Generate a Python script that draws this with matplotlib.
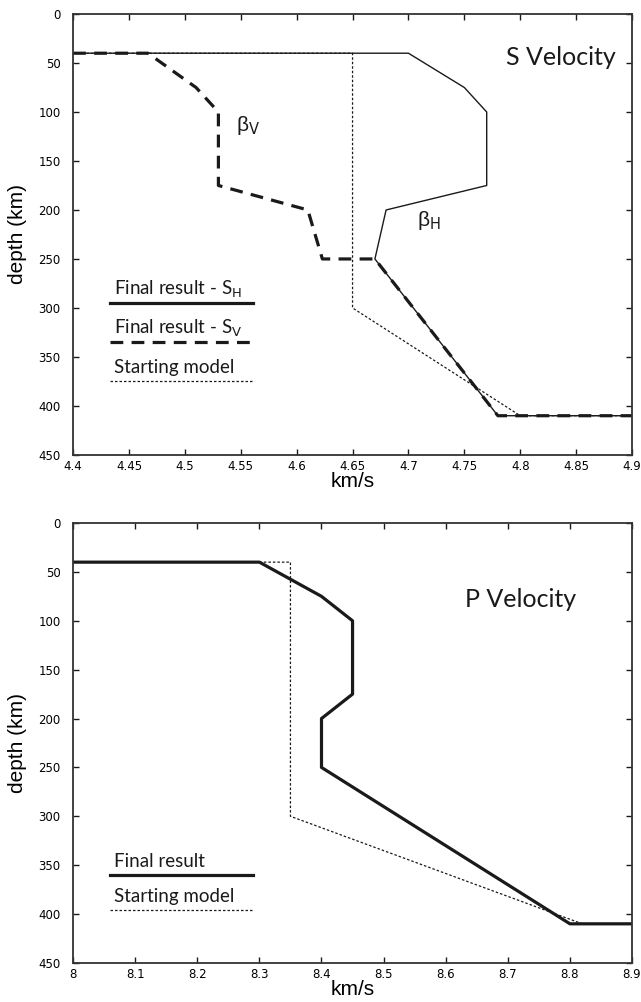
import matplotlib.pyplot as plt
from matplotlib.lines import Line2D

# S velocity profiles (km/s vs depth km)
sh_vel = [4.4, 4.7, 4.75, 4.77, 4.77, 4.68, 4.67, 4.78, 4.9]
sh_dep = [40, 40, 75, 100, 175, 200, 250, 410, 410]
sv_vel = [4.4, 4.467, 4.51, 4.53, 4.53, 4.61, 4.623, 4.67, 4.78, 4.9]
sv_dep = [40, 40, 75, 100, 175, 200, 250, 250, 410, 410]
s0_vel = [4.4, 4.65, 4.65, 4.8, 4.9]
s0_dep = [40, 40, 300, 410, 410]

# P velocity profiles
p_vel = [8.0, 8.3, 8.4, 8.45, 8.45, 8.4, 8.4, 8.8, 8.9]
p_dep = [40, 40, 75, 100, 175, 200, 250, 410, 410]
p0_vel = [8.3, 8.35, 8.35, 8.82, 8.9]
p0_dep = [40, 40, 300, 410, 410]

s_ticks = [4.4, 4.45, 4.5, 4.55, 4.6, 4.65, 4.7, 4.75, 4.8, 4.85, 4.9]
s_ticklabels = ['4.4', '4.45', '4.5', '4.55', '4.6', '4.65', '4.7', '4.75', '4.8', '4.85', '4.9']
p_ticks = [8.0, 8.1, 8.2, 8.3, 8.4, 8.5, 8.6, 8.7, 8.8, 8.9]
p_ticklabels = ['8', '8.1', '8.2', '8.3', '8.4', '8.5', '8.6', '8.7', '8.8', '8.9']
depth_ticks = [0, 50, 100, 150, 200, 250, 300, 350, 400, 450]

TICKFONT = ['Liberation Sans Narrow', 'DejaVu Sans']
LABELFONT = ['Liberation Sans', 'DejaVu Sans']
TEXTFONT = ['Lato', 'DejaVu Sans']
INK = '#1a1a1a'

fig = plt.figure(figsize=(6.41, 10.02), dpi=100)
ax1 = fig.add_axes([0.114, 0.546, 0.872, 0.440])
ax2 = fig.add_axes([0.114, 0.039, 0.872, 0.439])


def style_axes(ax, ticks, ticklabels, xlim):
    ax.set_xlim(*xlim)
    ax.set_ylim(450, 0)
    ax.set_xticks(ticks)
    ax.set_xticklabels(ticklabels, fontfamily=TICKFONT, fontsize=8.5)
    ax.set_yticks(depth_ticks)
    ax.set_yticklabels([str(d) for d in depth_ticks], fontfamily=TICKFONT, fontsize=8.5)
    ax.tick_params(direction='in', length=4, width=1, top=True, right=True,
                   color=INK)
    ax.tick_params(axis='x', pad=4)
    ax.tick_params(axis='y', pad=9)
    for sp in ax.spines.values():
        sp.set_linewidth(1.3)
        sp.set_color('#333333')
    ax.set_xlabel('km/s', fontfamily=LABELFONT, fontsize=15, labelpad=-1)
    ax.set_ylabel('depth (km)', fontfamily=LABELFONT, fontsize=15, labelpad=8)


def legend_entry(ax, y_line, label, **line_kw):
    ax.text(0.073, y_line + 0.018, label, transform=ax.transAxes,
            fontfamily=TEXTFONT, fontsize=13.5, color=INK, va='baseline')
    ax.add_line(Line2D([0.066, 0.322], [y_line, y_line], transform=ax.transAxes,
                       color=INK, **line_kw))


# --- S velocity
ax1.plot(s0_vel, s0_dep, color=INK, lw=0.9, ls=(0, (2, 1.6)))
ax1.plot(sh_vel, sh_dep, color=INK, lw=1.0)
ax1.plot(sv_vel, sv_dep, color=INK, lw=2.3, ls=(0, (4, 2.6)))
style_axes(ax1, s_ticks, s_ticklabels, (4.4, 4.9))
ax1.text(0.97, 0.885, 'S Velocity', transform=ax1.transAxes, ha='right',
         va='baseline', fontfamily=TEXTFONT, fontsize=18, color=INK)
ax1.text(4.546, 119, r'β$_{\mathrm{V}}$', fontfamily=LABELFONT, fontsize=15, color=INK)
ax1.text(4.708, 216, r'β$_{\mathrm{H}}$', fontfamily=LABELFONT, fontsize=15, color=INK)
legend_entry(ax1, 0.345, r'Final result - S$_{\mathrm{H}}$', lw=2.3)
legend_entry(ax1, 0.256, r'Final result - S$_{\mathrm{V}}$', lw=2.3, ls=(0, (4, 2.6)))
legend_entry(ax1, 0.168, 'Starting model', lw=0.9, ls=(0, (2, 1.6)))

# --- P velocity
ax2.plot(p0_vel, p0_dep, color=INK, lw=0.9, ls=(0, (2, 1.6)))
ax2.plot(p_vel, p_dep, color=INK, lw=2.3)
style_axes(ax2, p_ticks, p_ticklabels, (8.0, 8.9))
ax2.text(0.9, 0.81, 'P Velocity', transform=ax2.transAxes, ha='right',
         va='baseline', fontfamily=TEXTFONT, fontsize=18, color=INK)
legend_entry(ax2, 0.200, 'Final result', lw=2.3)
legend_entry(ax2, 0.120, 'Starting model', lw=0.9, ls=(0, (2, 1.6)))

fig.savefig('out.png', dpi=100)
